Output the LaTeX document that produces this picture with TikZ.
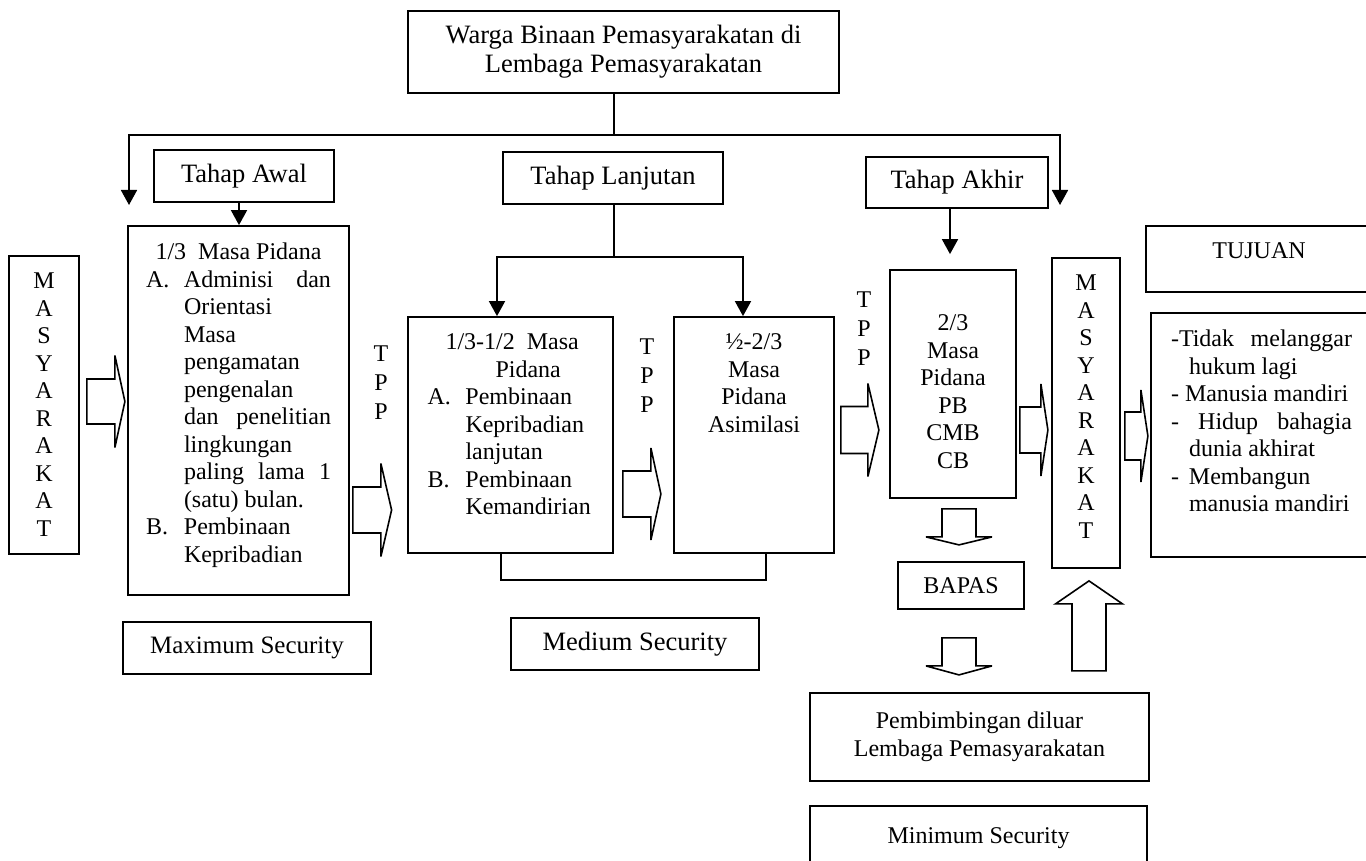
\documentclass[tikz,border=0pt]{standalone}
\usepackage{fontspec}
\setmainfont{Liberation Serif}
\usetikzlibrary{arrows.meta,positioning,calc}

\newcommand{\lbl}[1]{\makebox[38pt][l]{#1}}
\newcommand{\ind}{\hspace*{38pt}}
\newcommand{\jst}[2]{\makebox[#1][s]{#2}}

\tikzset{
  box/.style={draw, line width=1.8pt, inner sep=0pt, align=center, font=\fontsize{24}{27.5}\selectfont},
  stagebox/.style={box, font=\fontsize{26.5}{29}\selectfont},
  tall/.style={draw, line width=1.8pt, inner xsep=0pt, inner ysep=17pt, font=\fontsize{24}{27.5}\selectfont},
  tpp/.style={inner sep=0pt, align=center, font=\fontsize{24}{29}\selectfont},
  arr/.style={line width=1.8pt, -{Triangle[length=15pt,width=16pt]}},
  thinline/.style={line width=1.1pt},
  fatline/.style={line width=1.6pt, line join=miter, miter limit=5},
  pics/fatarrow/.style n args={4}{code={
    \draw[fatline] (0,-#2) -- (#1,-#2) -- (#1,-#3) -- (#1+#4,0) -- (#1,#3) -- (#1,#2) -- (0,#2) -- cycle;
  }}
}

\begin{document}
\begin{tikzpicture}[x=1pt, y=-1pt]
  \path[use as bounding box, fill=white] (0,0) rectangle (1366,861);

  % Top and stages
  \node[stagebox, minimum width=431pt, minimum height=82pt] (wbp) at (623.5,52)
    {Warga Binaan Pemasyarakatan di\\Lembaga Pemasyarakatan};
  \node[stagebox, minimum width=180pt, minimum height=52pt] (awal) at (244,176) {Tahap Awal};
  \node[stagebox, minimum width=220pt, minimum height=52pt] (lanj) at (613,178) {Tahap Lanjutan};
  \node[stagebox, minimum width=182pt, minimum height=51pt] (akhir) at (957,182.5) {Tahap Akhir};

  % Masa pidana
  \node[tall, minimum width=221pt, minimum height=369pt] (pid1) at (238.5,410.5)
    {\parbox[c][335pt][t]{185pt}{%
      \makebox[185pt]{1/3\ \ Masa Pidana}\\
      \lbl{A.}\jst{147pt}{Adminisi dan}\\
      \ind Orientasi\\
      \ind Masa\\
      \ind pengamatan\\
      \ind pengenalan\\
      \ind\jst{147pt}{dan penelitian}\\
      \ind lingkungan\\
      \ind\jst{147pt}{paling lama 1}\\
      \ind (satu) bulan.\\
      \lbl{B.}Pembinaan\\
      \ind Kepribadian}};
  \node[tall, minimum width=205pt, minimum height=236pt] (pid2) at (510.5,435)
    {\parbox[c][202pt][t]{166pt}{%
      \hspace*{18pt}1/3-1/2\ \ Masa\\
      \hspace*{68pt}Pidana\\
      \lbl{A.}Pembinaan\\
      \ind Kepribadian\\
      \ind lanjutan\\
      \lbl{B.}Pembinaan\\
      \ind\mbox{Kemandirian}}};
  \node[tall, minimum width=160pt, minimum height=236pt] (pid3) at (754,435)
    {\parbox[c][202pt][t]{140pt}{\centering ½-2/3\\Masa\\Pidana\\Asimilasi}};
  \node[tall, minimum width=126pt, minimum height=228pt] (pid4) at (953,384)
    {\parbox[c][194pt][t]{110pt}{\vspace*{28pt}\centering 2/3\\Masa\\Pidana\\PB\\CMB\\CB}};

  % Masyarakat and tujuan
  \node[tall, minimum width=70pt, minimum height=298pt] (masy1) at (44,405)
    {\parbox[c][264pt][t]{40pt}{\centering M\\A\\S\\Y\\A\\R\\A\\K\\A\\T}};
  \node[tall, minimum width=68pt, minimum height=310pt] (masy2) at (1086,413)
    {\parbox[c][276pt][t]{40pt}{\centering M\\A\\S\\Y\\A\\R\\A\\K\\A\\T}};
  \node[tall, minimum width=226pt, minimum height=66pt] (tujuan) at (1259,259)
    {\parbox[c][32pt][t]{200pt}{\centering TUJUAN}};
  \node[tall, minimum width=221pt, minimum height=244pt] (tujuan2) at (1261.5,435)
    {\parbox[c][210pt][t]{181pt}{%
      \jst{181pt}{-Tidak melanggar}\\
      \hspace*{18pt}hukum lagi\\
      - Manusia mandiri\\
      \jst{181pt}{- Hidup bahagia}\\
      \hspace*{18pt}dunia akhirat\\
      \makebox[18pt][l]{-}Membangun\\
      \hspace*{18pt}manusia mandiri}};

  % Bottom
  \node[box, minimum width=126pt, minimum height=47pt] (bapas) at (961,585.5) {BAPAS};
  \node[box, minimum width=339pt, minimum height=88pt] (pemb) at (979.5,737)
    {Pembimbingan diluar\\Lembaga Pemasyarakatan};
  \node[box, minimum width=337pt, minimum height=64pt] (minsec) at (978.5,838) {Minimum Security};
  \node[box, font=\fontsize{25}{28}\selectfont, minimum width=248pt, minimum height=52pt]
    (maxsec) at (247,648) {Maximum Security};
  \node[stagebox, minimum width=248pt, minimum height=52pt] (medsec) at (635,644) {Medium Security};

  % TPP
  \node[tpp] (tpp1) at (381,382.5) {T\\P\\P};
  \node[tpp] (tpp2) at (647,375.5) {T\\P\\P};
  \node[tpp] (tpp3) at (864,329) {T\\P\\P};

  % Arrows
  \coordinate (split) at (614,135);
  \coordinate (lfall) at (129,205);
  \coordinate (rfall) at (1060,205);
  \draw[thinline] (wbp.south -| split) -- (split);
  \draw[arr] (split) -| (lfall);
  \draw[arr] (split) -| (rfall);
  \draw[arr] ($(awal.south)+(-5,0)$) -- ($(awal.south |- pid1.north)+(-5,0)$);
  \coordinate (lsplit) at (614,257);
  \draw[thinline] (lanj.south -| lsplit) -- (lsplit);
  \draw[arr] (lsplit) -| ($(pid2.north)+(-13.5,0)$);
  \draw[arr] (lsplit) -| ($(pid3.north)+(-11,0)$);
  \draw[arr] ($(akhir.south)+(-7,0)$) -- ($(akhir.south |- pid4.north)+(-7,-15)$);
  \coordinate (b1) at (501,580);
  \coordinate (b2) at (766,580);
  \draw[thinline] (pid2.south -| b1) -- (b1) -- (b2) -- (pid3.south -| b2);

  % Block arrows
  \pic at ($(masy1.east)+(7,-3.5)$) {fatarrow={28}{22.5}{46}{10}};
  \pic at ($(pid1.east)+(3,99.5)$) {fatarrow={28}{23}{46.5}{10.7}};
  \pic at ($(pid2.east)+(9,59)$) {fatarrow={28}{23}{46}{10}};
  \pic at ($(pid3.east)+(6,-5)$) {fatarrow={27}{23.5}{46.5}{11}};
  \pic at ($(pid4.east)+(3,46)$) {fatarrow={21}{23}{46}{7}};
  \pic at ($(masy2.east)+(4,23)$) {fatarrow={16}{24}{46}{7}};
  \pic[rotate=-90] at ($(pid4.south)+(6,10)$) {fatarrow={28}{17}{33}{8}};
  \pic[rotate=-90] at ($(bapas.south)+(-2,28)$) {fatarrow={28}{17}{33}{9}};
  \pic[rotate=90] at ($(masy2.south)+(3,102)$) {fatarrow={67}{17}{33.5}{23}};
\end{tikzpicture}
\end{document}
